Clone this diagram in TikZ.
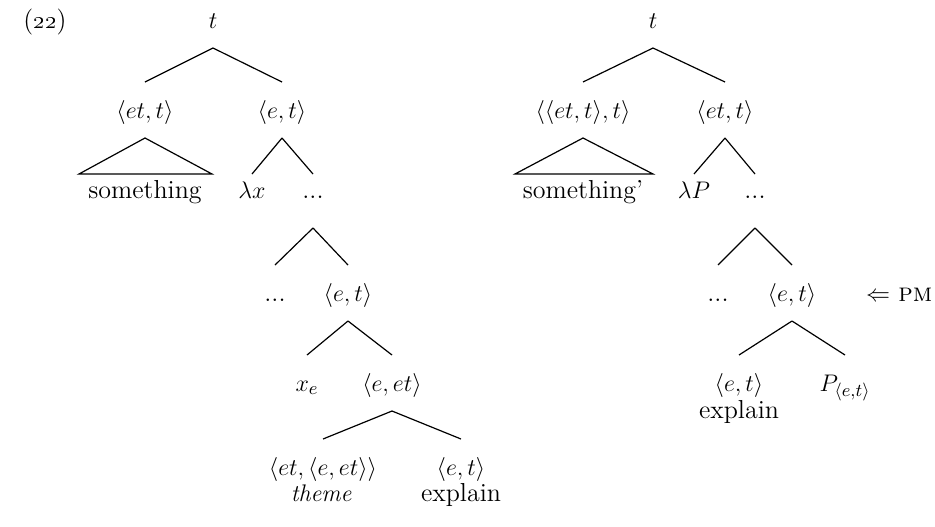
\documentclass[tikz,border=0pt]{standalone}
\usepackage{amsmath,amssymb}
\usepackage{tikz}

\begin{document}
\begin{tikzpicture}[x=0.5pt, y=-0.5pt, line width=0.6pt, font=\fontsize{13}{16}\selectfont,
	every node/.style={anchor=base, inner sep=0pt, outer ysep=8pt, text height=10pt, text depth=2pt},
	lf/.style={text height=4pt}, dt/.style={text depth=7pt}]
	\useasboundingbox (0,0) rectangle (935,526);
	\node (ex) at (45,28) {(\oldstylenums{22})};
	\node (r) at (213,28) {$t$};
	\node (a) at (145,118) {$\langle et,t\rangle$};
	\node (b) at (282,118) {$\langle e,t\rangle$};
	\node[lf] (a1) at (145,198) {something};
	\node[lf] (b1) at (252,198) {$\lambda x$};
	\node[lf,dt] (b2) at (313,198) {...};
	\node (c1) at (275,301) {...};
	\node (c2) at (348,301) {$\langle e,t\rangle$};
	\node (d1) at (307,391) {$x_e$};
	\node (d2) at (392,391) {$\langle e,et\rangle$};
	\node (e1) at (323,475) {$\langle et,\langle e,et\rangle\rangle$};
	\node (e2) at (461,475) {$\langle e,t\rangle$};
	\node (e1w) at (322,501) {$\mathit{theme}$};
	\node (e2w) at (461,501) {explain};
	\draw (r.south) -- (a.north) (r.south) -- (b.north);
	\draw (a.south) -- ([xshift=-33pt]a1.north) -- ([xshift=33.5pt]a1.north) -- cycle;
	\draw (b.south) -- (b1.north) (b.south) -- (b2.north);
	\draw (b2.south) -- (c1.north) (b2.south) -- (c2.north);
	\draw (c2.south) -- (d1.north) (c2.south) -- (d2.north);
	\draw (d2.south) -- (e1.north) (d2.south) -- (e2.north);

	\node (R) at (653,28) {$t$};
	\node (A) at (583,118) {$\langle\langle et,t\rangle,t\rangle$};
	\node (B) at (725,118) {$\langle et,t\rangle$};
	\node[lf] (A1) at (583,198) {something'};
	\node[lf] (B1) at (694,198) {$\lambda P$};
	\node[lf,dt] (B2) at (755,198) {...};
	\node (C1) at (718,301) {...};
	\node (C2) at (792,301) {$\langle e,t\rangle$};
	\node[anchor=base east] (pm) at (933,301) {$\Leftarrow$ \textsc{pm}};
	\node (D1) at (739,391) {$\langle e,t\rangle$};
	\node (D2) at (845,391) {$P_{\langle e,t\rangle}$};
	\node (D1w) at (739,418) {explain};
	\draw (R.south) -- (A.north) (R.south) -- (B.north);
	\draw (A.south) -- ([xshift=-34pt]A1.north) -- ([xshift=35pt]A1.north) -- cycle;
	\draw (B.south) -- (B1.north) (B.south) -- (B2.north);
	\draw (B2.south) -- (C1.north) (B2.south) -- (C2.north);
	\draw (C2.south) -- (D1.north) (C2.south) -- (D2.north);
\end{tikzpicture}
\end{document}
